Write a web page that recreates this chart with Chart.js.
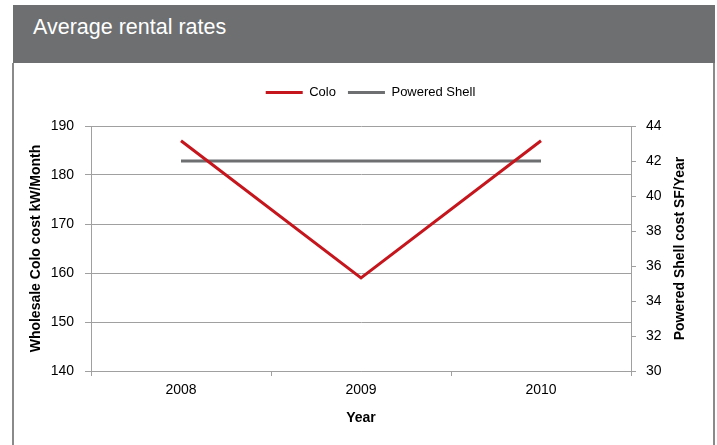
<!DOCTYPE html>
<html>
<head>
<meta charset="utf-8">
<script src="https://cdn.jsdelivr.net/npm/chart.js@4"></script>
<style>
  body { margin: 0; background: #fff; width: 717px; height: 445px; overflow: hidden; position: relative; }
  #header { position: absolute; left: 13px; top: 5px; width: 702px; height: 58px; background: #6d6f71; }
  #header span { position: absolute; left: 20px; top: 10px; color: #fff; font: 21.5px "Liberation Sans Narrow", "Arial Narrow", "Liberation Sans", sans-serif; }
  #panel { position: absolute; left: 12px; top: 63px; width: 699px; height: 400px; border-left: 2px solid #8a8a8a; border-right: 2px solid #8a8a8a; }
  #wrap { position: absolute; left: 0; top: 63px; width: 717px; height: 382px; }
</style>
</head>
<body>
<div id="header"><span>Average rental rates</span></div>
<div id="panel"></div>
<div id="wrap"><canvas id="chart"></canvas></div>
<script>
const years = ['2008', '2009', '2010'];
const coloCost = [187, 159, 187];
const shellCost = [42, 42, 42];

const narrow = '"Liberation Sans Narrow", "Arial Narrow", "Liberation Sans", sans-serif';
const gridColor = '#a0a0a0';

// legend box sits higher than chart area, so stretch it a bit
const legendSpace = {
  id: 'legendSpace',
  afterInit(chart) {
    const fit = chart.legend.fit;
    chart.legend.fit = function () {
      fit.call(this);
      this.height += 17;
    };
  }
};

// right axis title reads bottom to top like the left one
const rightTitle = {
  id: 'rightTitle',
  afterDraw(chart) {
    const s = chart.scales.y2;
    const ctx = chart.ctx;
    ctx.save();
    ctx.translate(s.left + 49, (chart.chartArea.top + chart.chartArea.bottom) / 2);
    ctx.rotate(-Math.PI / 2);
    ctx.font = 'bold 14px ' + narrow;
    ctx.fillStyle = '#000';
    ctx.textAlign = 'center';
    ctx.textBaseline = 'middle';
    ctx.fillText('Powered Shell cost SF/Year', 0, 0);
    ctx.restore();
  }
};

new Chart(document.getElementById('chart').getContext('2d'), {
  type: 'line',
  data: {
    labels: years,
    datasets: [{
      label: 'Colo',
      data: coloCost,
      yAxisID: 'y',
      borderColor: '#c4161c',
      backgroundColor: '#c4161c',
      borderWidth: 3,
      pointRadius: 0,
      tension: 0
    }, {
      label: 'Powered Shell',
      data: shellCost,
      yAxisID: 'y2',
      borderColor: '#6d6f71',
      backgroundColor: '#6d6f71',
      borderWidth: 3,
      pointRadius: 0,
      tension: 0
    }]
  },
  options: {
    responsive: true,
    maintainAspectRatio: false,
    animation: false,
    layout: { padding: { left: 24, right: 0, top: 11, bottom: 14 } },
    plugins: {
      legend: {
        position: 'top',
        labels: {
          boxWidth: 37,
          boxHeight: 3,
          padding: 12,
          color: '#000',
          font: { family: narrow, size: 13 },
          generateLabels(chart) {
            return Chart.defaults.plugins.legend.labels.generateLabels(chart).map(item => {
              item.lineWidth = 0;
              return item;
            });
          }
        }
      },
      tooltip: { enabled: false }
    },
    scales: {
      x: {
        offset: true,
        grid: { offset: true, drawOnChartArea: false, drawTicks: true, tickLength: 5, color: gridColor },
        border: { color: gridColor },
        ticks: { color: '#000', padding: 6, font: { family: narrow, size: 14 } },
        title: { display: true, text: 'Year', color: '#000', font: { family: narrow, size: 14, weight: 'bold' } },
        afterFit(scale) { scale.height = 60; }
      },
      y: {
        position: 'left',
        min: 140,
        max: 190,
        ticks: { stepSize: 10, color: '#000', padding: 11, font: { family: narrow, size: 14 } },
        grid: { color: gridColor, tickLength: 6 },
        border: { color: gridColor },
        title: { display: true, text: 'Wholesale Colo cost kW/Month', color: '#000', font: { family: narrow, size: 14, weight: 'bold' } },
        afterFit(scale) { scale.width = 67; }
      },
      y2: {
        position: 'right',
        min: 30,
        max: 44,
        ticks: { stepSize: 2, color: '#000', padding: 10, font: { family: narrow, size: 14 } },
        grid: { drawOnChartArea: false, color: gridColor, tickLength: 5 },
        border: { color: gridColor },
        afterFit(scale) { scale.width = 86; }
      }
    }
  },
  plugins: [legendSpace, rightTitle]
});
</script>
</body>
</html>
